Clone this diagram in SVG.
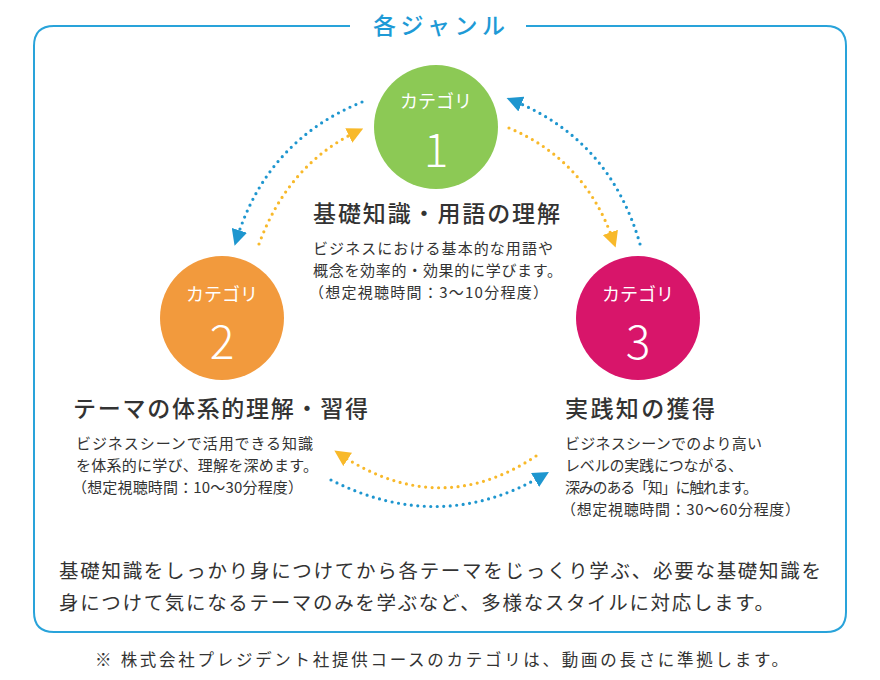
<svg xmlns="http://www.w3.org/2000/svg" width="880" height="680" viewBox="0 0 880 680">
<defs>
<style>
text{font-family:"Noto Sans CJK JP","Noto Sans",sans-serif;fill:#333}
.dB{fill:none;stroke:#1e96cf;stroke-width:3.2;stroke-linecap:round;stroke-dasharray:0 6.5}
.dO{fill:none;stroke:#f8b92a;stroke-width:3.2;stroke-linecap:round;stroke-dasharray:0 6.5}
.cl{fill:#fff;font-size:18px;text-anchor:middle}
.cn{fill:#fff;font-size:46px;text-anchor:middle;font-weight:300}
.h{font-size:23px;font-weight:500}
.s{font-size:15px}
</style>
<marker id="aB" viewBox="0 0 10 10" refX="5" refY="5" markerWidth="5" markerHeight="5" orient="auto" markerUnits="strokeWidth"><path d="M0,0L10,5L0,10z" fill="#1e96cf"/></marker>
<marker id="aO" viewBox="0 0 10 10" refX="5" refY="5" markerWidth="5" markerHeight="5" orient="auto" markerUnits="strokeWidth"><path d="M0,0L10,5L0,10z" fill="#f8b92a"/></marker>
</defs>
<rect width="880" height="680" fill="#fff"/>
<g id="frame">
<path d="M350,26 H54 Q34,26 34,46 V612 Q34,632 54,632 H826 Q846,632 846,612 V46 Q846,26 826,26 H526" fill="none" stroke="#29a3da" stroke-width="2"/>
<text x="373" y="34" font-size="23" font-weight="500" textLength="132" style="fill:#1e9ad6">各ジャンル</text>
</g>
<g id="connectors">
<path class="dB" d="M362,102 Q268,140 237,238" marker-end="url(#aB)"/>
<path class="dO" d="M259,244 Q288,165 356,132" marker-end="url(#aO)"/>
<path class="dO" d="M509,128 Q585,160 613,240" marker-end="url(#aO)"/>
<path class="dB" d="M640,244 Q610,140 514,101" marker-end="url(#aB)"/>
<path class="dO" d="M536,456 Q440,520 341,455" marker-end="url(#aO)"/>
<path class="dB" d="M331,480 Q440,535 542,476" marker-end="url(#aB)"/>
</g>
<g id="cat1">
<circle cx="436" cy="127" r="62" fill="#8cc955"/>
<text class="cl" x="436" y="108">カテゴリ</text>
<text class="cn" x="436" y="167">1</text>
<text class="h" x="313" y="222" textLength="247">基礎知識・用語の理解</text>
<text class="s" x="313" y="254" textLength="240">ビジネスにおける基本的な用語や</text>
<text class="s" x="313" y="276" textLength="249">概念を効率的・効果的に学びます。</text>
<text class="s" x="309" y="298" textLength="239">（想定視聴時間：3～10分程度）</text>
</g>
<g id="cat2">
<circle cx="222" cy="318" r="62" fill="#f29a3d"/>
<text class="cl" x="222" y="301">カテゴリ</text>
<text class="cn" x="222" y="359">2</text>
<text class="h" x="73" y="417" textLength="295">テーマの体系的理解・習得</text>
<text class="s" x="76" y="449" textLength="237">ビジネスシーンで活用できる知識</text>
<text class="s" x="76" y="471" textLength="242">を体系的に学び、理解を深めます。</text>
<text class="s" x="72" y="493" textLength="231">（想定視聴時間：10～30分程度）</text>
</g>
<g id="cat3">
<circle cx="638" cy="318" r="62" fill="#d8156a"/>
<text class="cl" x="638" y="301">カテゴリ</text>
<text class="cn" x="638" y="359">3</text>
<text class="h" x="565" y="417" textLength="150">実践知の獲得</text>
<text class="s" x="565" y="449" textLength="197">ビジネスシーンでのより高い</text>
<text class="s" x="565" y="471" textLength="178">レベルの実践につながる、</text>
<text class="s" x="565" y="493" textLength="193">深みのある「知」に触れます。</text>
<text class="s" x="561" y="515" textLength="239">（想定視聴時間：30～60分程度）</text>
</g>
<g id="summary">
<text x="59" y="578" font-size="19.5" textLength="762">基礎知識をしっかり身につけてから各テーマをじっくり学ぶ、必要な基礎知識を</text>
<text x="59" y="610" font-size="19.5" textLength="715">身につけて気になるテーマのみを学ぶなど、多様なスタイルに対応します。</text>
</g>
<g id="note">
<text x="95" y="666" font-size="16.5" textLength="693">※ 株式会社プレジデント社提供コースのカテゴリは、動画の長さに準拠します。</text>
</g>
</svg>
